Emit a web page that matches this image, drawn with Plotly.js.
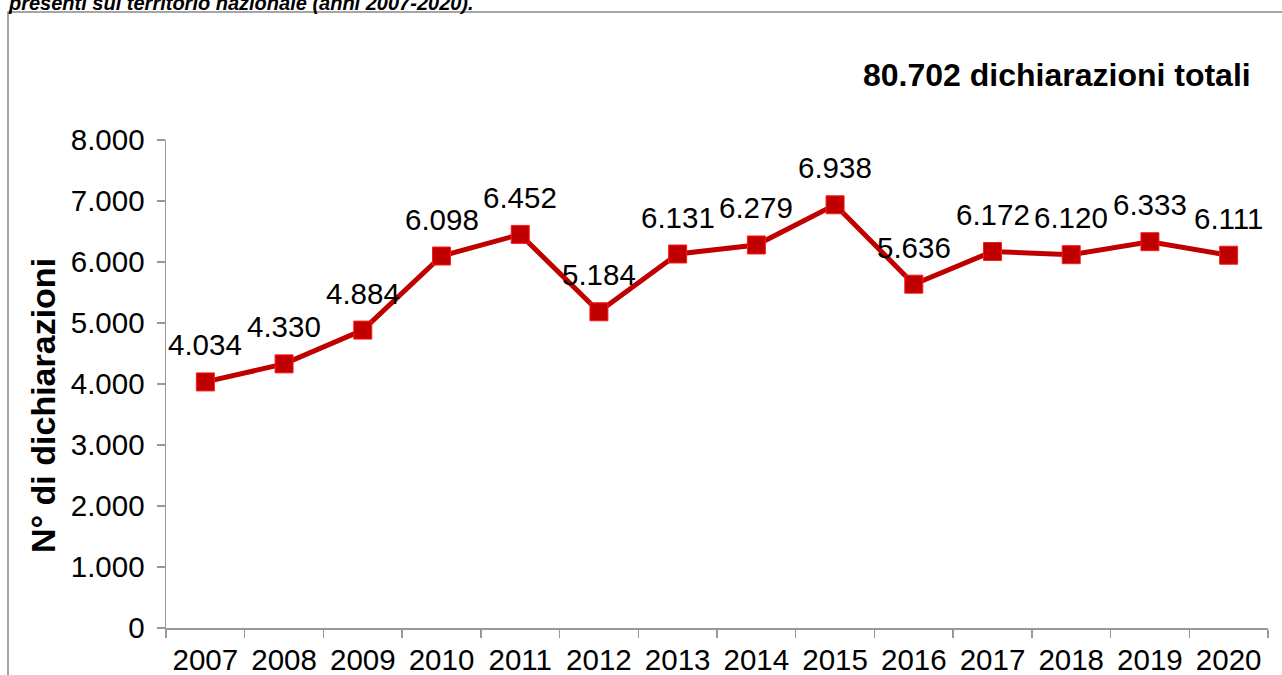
<!DOCTYPE html>
<html>
<head>
<meta charset="utf-8">
<script src="https://cdn.plot.ly/plotly-3.0.1.min.js"></script>
<style>html,body{margin:0;padding:0;background:#fff;}#chart{width:1282px;height:675px;}</style>
</head>
<body>
<div id="chart"></div>
<script>
const years = ['2007','2008','2009','2010','2011','2012','2013','2014','2015','2016','2017','2018','2019','2020'];
const declarations = [4034, 4330, 4884, 6098, 6452, 5184, 6131, 6279, 6938, 5636, 6172, 6120, 6333, 6111];
const yTicks = [0, 1000, 2000, 3000, 4000, 5000, 6000, 7000, 8000];
const yTickLabels = ['0', '1.000', '2.000', '3.000', '4.000', '5.000', '6.000', '7.000', '8.000'];
const titleText = 'presenti sul territorio nazionale (anni 2007-2020).';
const totalText = '80.702 dichiarazioni totali';
const yTitle = 'N° di dichiarazioni';

function fmt(v){ return v.toString().replace(/\B(?=(\d{3})+(?!\d))/g, '.'); }

const FONT = 'Liberation Sans, Arial, sans-serif';
const W = 1282, H = 675, L = 166, R = 14, T = 140, B = 47;
const PW = W - L - R, PH = H - T - B;
const px2x = p => (p - L) / PW;
const py2y = p => (H - B - p) / PH;

const trace = {
  x: years, y: declarations, type: 'scatter', mode: 'lines+markers',
  line: {color: '#C00000', width: 5},
  marker: {symbol: 'square', size: 18, color: '#C00000', line: {color: '#FF1a1a', width: 1}},
  hoverinfo: 'x+y'
};

const labelAnns = years.map((yr, i) => ({
  x: i, y: declarations[i], xref: 'x', yref: 'y', text: fmt(declarations[i]),
  showarrow: false, yshift: 37, font: {family: FONT, size: 29.5, color: '#000'}
}));

const layout = {
  width: W, height: H,
  margin: {l: L, r: R, t: T, b: B},
  paper_bgcolor: '#fff', plot_bgcolor: '#fff',
  showlegend: false,
  font: {family: FONT, color: '#000'},
  xaxis: {
    type: 'category', range: [-0.5, 13.5], tickson: 'boundaries',
    ticks: 'outside', ticklen: 8, tickcolor: '#999', tickwidth: 1.5,
    showline: true, linecolor: '#999', linewidth: 1.5, showgrid: false, zeroline: false,
    ticklabelstandoff: 5,
    tickfont: {family: FONT, size: 29.5, color: '#000'}
  },
  yaxis: {
    range: [0, 8000], tickvals: yTicks, ticktext: yTickLabels,
    ticks: 'outside', ticklen: 8, tickcolor: '#999', tickwidth: 1.5,
    showline: true, linecolor: '#999', linewidth: 1.5, showgrid: false, zeroline: false,
    ticklabelstandoff: 6,
    tickfont: {family: FONT, size: 29.5, color: '#000'}
  },
  shapes: [{
    type: 'rect', xref: 'paper', yref: 'paper',
    x0: px2x(8), x1: px2x(1300), y0: py2y(700), y1: py2y(12),
    line: {color: '#888', width: 1.5}, fillcolor: 'rgba(0,0,0,0)', layer: 'below'
  }],
  annotations: labelAnns.concat([
    {xref: 'paper', yref: 'paper', x: px2x(1253), y: py2y(75), xanchor: 'right', yanchor: 'middle',
     text: '<b>' + totalText + '</b>', showarrow: false, font: {family: FONT, size: 32, color: '#000'}},
    {xref: 'paper', yref: 'paper', x: px2x(43), y: py2y(406), xanchor: 'center', yanchor: 'middle', textangle: -90,
     text: '<b>' + yTitle + '</b>', showarrow: false, font: {family: FONT, size: 34, color: '#000'}},
    {xref: 'paper', yref: 'paper', x: px2x(6), y: py2y(3), xanchor: 'left', yanchor: 'middle',
     text: '<b><i>' + titleText + '</i></b>', showarrow: false, font: {family: FONT, size: 20, color: '#000'}}
  ])
};

Plotly.newPlot('chart', [trace], layout, {displayModeBar: false, staticPlot: true});
</script>
</body>
</html>
